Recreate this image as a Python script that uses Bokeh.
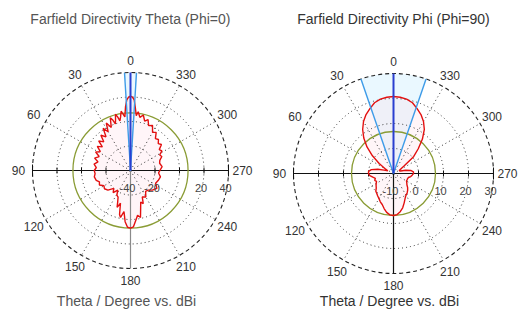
import numpy as np
from bokeh.plotting import figure
from bokeh.models import Range1d
from bokeh.core.properties import value
from bokeh.embed import file_html
from bokeh.resources import INLINE

# ---- Farfield directivity, cut Phi = 0 (theta in degrees, counter-clockwise from 0 at the top) ----
theta_phi0 = [0, 1.5, 3, 4.5, 6, 7.5, 9, 10.5, 12, 13.5, 15, 16.5, 18, 19.5, 21, 22.5, 24,
              27, 30, 33, 36, 40, 43, 47, 50, 54, 58, 62, 66, 71, 75, 80, 85, 90,
              95, 100, 106, 110, 115, 120, 125, 131, 137, 142, 147, 151, 155, 158, 160,
              163, 166, 168, 171, 174, 177, 180, 183, 186, 189, 192, 195, 198, 201, 204,
              210, 216, 222, 228, 236, 243, 250, 258, 265, 270, 277, 284, 289, 294, 298,
              302, 306, 310, 314, 318, 322, 326, 330, 334, 338, 341, 344, 347, 350,
              352.5, 354, 355.5, 357, 358.5]
dbi_phi0 = [20.8, 20.0, 17.8, 12.0, 4.0, 6.5, 9.0, 4.5, 1.5, 5.0, 7.5, 3.0, 0.0, 4.0, 6.0, 2.0, -1.5,
            3.5, -3.5, 1.0, -6.0, -2.4, -8.0, -4.5, -10.0, -6.5, -11.0, -7.8, -12.0, -9.0, -12.5, -9.8, -12.0, -10.4,
            -11.0, -10.0, -10.9, -13.0, -12.0, -15.0, -14.0, -15.6, -20.0, -17.0, -21.0, -17.0, -16.0, -12.0, -8.0,
            -12.0, -3.0, -0.8, -6.0, 2.0, 6.4, 7.0, 6.0, 1.0, -3.0, -0.8, -8.0, -13.0, -11.0, -16.4,
            -15.0, -19.0, -18.4, -16.0, -14.0, -17.0, -16.0, -15.0, -17.0, -16.0, -14.0, -15.5, -14.7, -12.0, -13.0,
            -9.8, -11.0, -7.0, -8.5, -5.9, -7.0, -2.5, -4.0, 1.0, -0.5, 4.0, 2.0, 6.5, 4.0,
            8.4, 5.0, 11.0, 17.8, 20.0]

# ---- Farfield directivity, cut Phi = 90 ----
theta_phi90 = [0, 5, 10, 15, 20, 25, 30, 35, 40, 45, 50, 55, 60, 65, 70, 75, 80, 85,
               90, 95, 100, 105, 110, 115, 120, 125, 130, 135, 140, 145, 150, 155, 160, 165, 170, 175,
               180, 185, 190, 195, 200, 205, 210, 215, 220, 225, 230, 235, 240, 245, 250, 255, 260, 265,
               270, 275, 280, 285, 290, 295, 300, 305, 310, 315, 320, 325, 330, 335, 340, 345, 350, 355]
dbi_phi90 = [20.8, 20.6, 20.2, 19.3, 17.6, 16.0, 14.0, 11.5, 8.5, 5.0, 1.0, -3.0, -6.0, -7.5, -6.0, -3.5, -1.0, 0.0,
             0.0, -0.5, -1.6, -2.5, -2.0, -2.5, -2.0, -1.5, -1.0, 0.0, 0.4, 1.0, 1.6, 2.5, 3.2, 4.5, 5.8, 6.6,
             6.8, 6.5, 5.5, 4.2, 2.5, 1.0, 0.0, -0.5, -1.2, -2.0, -3.0, -3.5, -4.0, -4.0, -4.0, -3.8, -3.0, -2.5,
             -2.0, -2.0, -3.0, -5.0, -7.0, -7.5, -7.0, -5.0, 0.5, 4.0, 8.0, 11.5, 14.0, 16.0, 17.6, 19.3, 20.2, 20.6]

# Radial scales (dBi) and ring labels
rings_phi0 = [-40, -20, 0, 20, 40]
ring_labels_phi0 = ["-40", "-20", "", "20", "40"]
rings_phi90 = [-10, 0, 10, 20, 30]
ring_labels_phi90 = ["-10", "0", "10", "20", "30"]

angle_ticks = [0, 30, 60, 90, 120, 150, 180, 210, 240, 270, 300, 330]

# Main lobe direction, 3 dB beam edges and side lobe level
main_dir = [0.0, 0.0]
beam_edges = [(-3.5, 3.5), (-19.0, 19.0)]
side_lobe_level = [7.0, 6.8]

titles = ["Farfield Directivity Theta (Phi=0)", "Farfield Directivity Phi (Phi=90)"]
xlabels = ["Theta / Degree vs. dBi", "Theta / Degree vs. dBi"]

W, H = 518, 336
p = figure(width=W, height=H, x_range=Range1d(0, W), y_range=Range1d(0, H),
           output_backend="svg", toolbar_location=None, min_border=0)
p.axis.visible = False
p.grid.visible = False
p.outline_line_color = None
p.background_fill_color = "white"

FONT = value("Liberation Sans")


def draw_polar(cx, cy, R, rings, ring_labels, theta, dbi, main, edges, sll,
               title, xlabel, vaxis_color, title_color):
    rmin, rmax = rings[0], rings[-1]

    def rad(v):
        v = np.asarray(v, dtype=float)
        return np.clip((v - rmin) / (rmax - rmin), 0, None) * R

    def xy(th, r):
        t = np.radians(np.asarray(th, dtype=float))
        return cx - r * np.sin(t), cy + r * np.cos(t)

    # 3 dB beam wedge
    lo, hi = edges
    arc = np.linspace(lo, hi, 30)
    wx, wy = xy(arc, np.full(arc.shape, R))
    p.patch(np.r_[cx, wx], np.r_[cy, wy], fill_color="#d6f1ff", fill_alpha=0.5, line_color=None)

    # pattern fill
    rx, ry = xy(theta, rad(dbi))
    p.patch(rx, ry, fill_color="#ffd8e2", fill_alpha=0.25, line_color=None)

    # grid rings
    for rv in rings[1:]:
        rr = float(rad(rv))
        if rv == rmax:
            p.circle([cx], [cy], radius=rr, fill_color=None, line_color="#222222",
                     line_width=1.1, line_dash="4 3")
        else:
            p.circle([cx], [cy], radius=rr, fill_color=None, line_color="#333333",
                     line_width=1, line_dash="1 3")

    # radial spokes
    for a in angle_ticks:
        if a % 90 == 0:
            continue
        ex, ey = xy([a], np.array([R]))
        p.line([cx, ex[0]], [cy, ey[0]], line_color="#333333", line_width=1, line_dash="1 3")

    # axes
    p.line([cx - R, cx + R], [cy, cy], line_color="#111111", line_width=1.2)
    p.line([cx, cx], [cy, cy - R], line_color=vaxis_color, line_width=1.2)
    for rv in rings[1:]:
        rr = float(rad(rv))
        h = 6 if rv == rmax else 3
        for sgn in (-1, 1):
            p.line([cx + sgn * rr, cx + sgn * rr], [cy - h, cy + h], line_color="#111111", line_width=1)

    # side lobe level
    p.circle([cx], [cy], radius=float(rad(sll)), fill_color=None, line_color="#8a9c35", line_width=1.3)

    # pattern
    p.line(np.r_[rx, rx[0]], np.r_[ry, ry[0]], line_color="#e31010", line_width=1.4)

    # 3 dB edges and main lobe direction
    for e in edges:
        ex, ey = xy([e], np.array([R]))
        p.line([cx, ex[0]], [cy, ey[0]], line_color="#3d9be8", line_width=1.4)
    mx, my = xy([main], np.array([R]))
    p.line([cx, mx[0]], [cy, my[0]], line_color="#2a3ed0", line_width=2)

    # angle labels
    lx, ly, lt = [], [], []
    for a in angle_ticks:
        s = abs(np.sin(np.radians(a)))
        rl = R + 12 + 2 * s
        x0, y0 = xy([a], np.array([rl]))
        lx.append(x0[0]); ly.append(y0[0]); lt.append(str(a))
    p.text(lx, ly, text=lt, text_font=FONT, text_font_size="12px", text_color="#333333",
           text_align="center", text_baseline="middle")

    # ring value labels
    tx, ty, tt = [], [], []
    for rv, lab in zip(rings, ring_labels):
        if not lab:
            continue
        tx.append(cx + float(rad(rv)) - 3); ty.append(cy - 17); tt.append(lab)
    p.text(tx, ty, text=tt, text_font=FONT, text_font_size="11px", text_color="#444444",
           text_align="center", text_baseline="middle")

    p.text([cx], [H - 18], text=[title], text_font=FONT, text_font_size="14px",
           text_color=title_color, text_align="center", text_baseline="middle")
    p.text([cx - 4], [H - 300], text=[xlabel], text_font=FONT, text_font_size="14px",
           text_color=title_color, text_align="center", text_baseline="middle")


draw_polar(130, H - 170, 98, rings_phi0, ring_labels_phi0, theta_phi0, dbi_phi0,
           main_dir[0], beam_edges[0], side_lobe_level[0], titles[0], xlabels[0], "#8a8a8a", "#555555")
draw_polar(393, H - 173, 100, rings_phi90, ring_labels_phi90, theta_phi90, dbi_phi90,
           main_dir[1], beam_edges[1], side_lobe_level[1], titles[1], xlabels[1], "#111111", "#333333")

open("out.html", "w").write(file_html(p, INLINE))
